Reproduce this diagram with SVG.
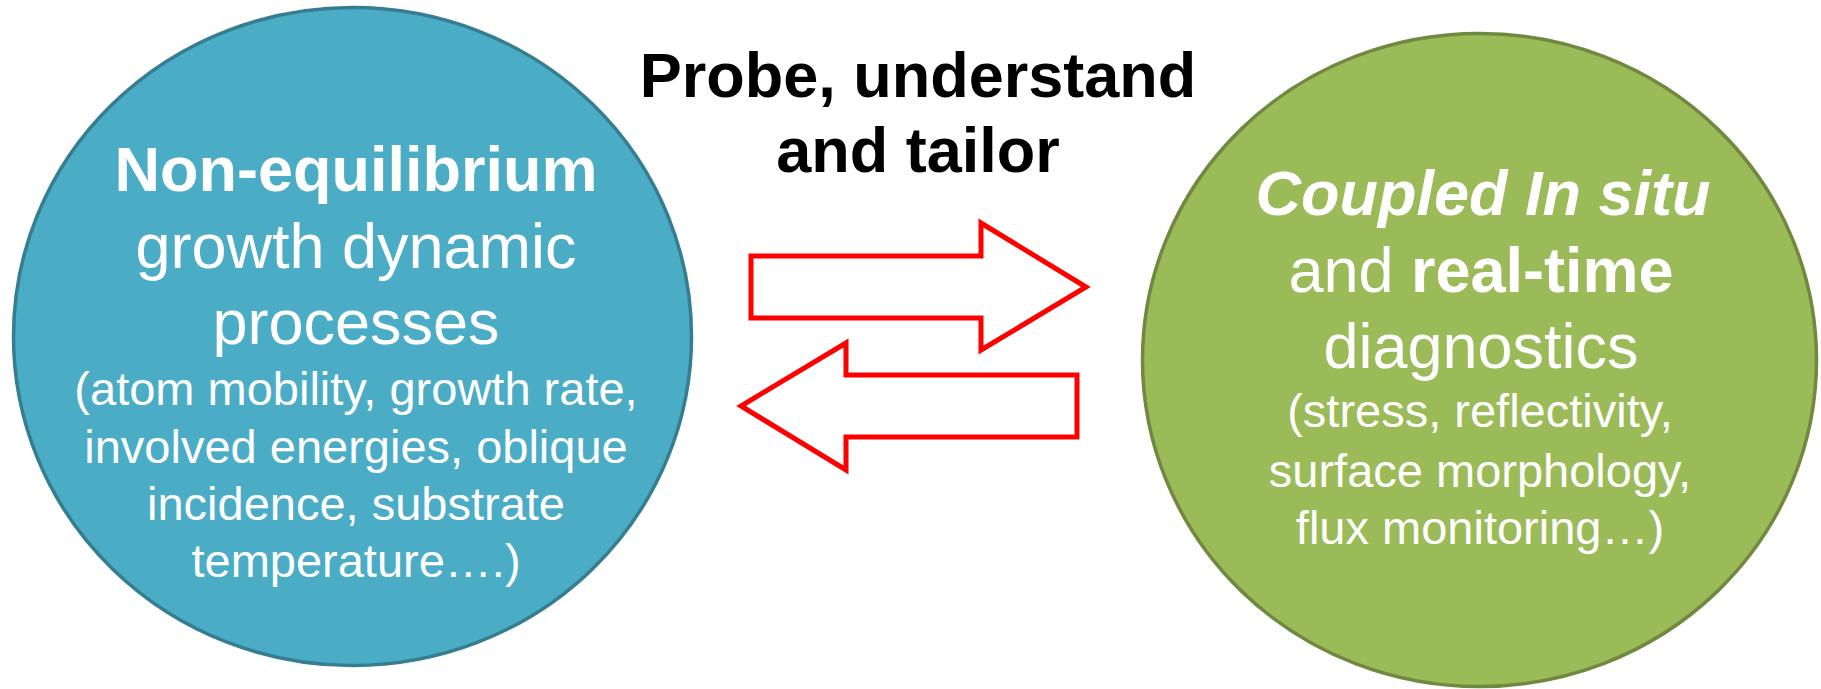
<svg xmlns="http://www.w3.org/2000/svg" width="1821" height="689" viewBox="0 0 1821 689">
<style>
  text { font-family: "Liberation Sans", Arial, sans-serif; text-anchor: middle; }
  .big { font-size: 63px; fill: #FFFFFF; }
  .small { font-size: 47px; fill: #FFFFFF; }
  .title { font-size: 63px; font-weight: bold; fill: #000000; }
  .b { font-weight: bold; }
  .bi { font-weight: bold; font-style: italic; }
  .arrow { fill: #FFFFFF; stroke: #FF0000; stroke-width: 5; stroke-linejoin: miter; }
</style>
<rect width="1821" height="689" fill="#FFFFFF"/>
<g id="node-left">
  <ellipse cx="352.5" cy="336.5" rx="339" ry="329" fill="#4BACC6" stroke="#357D91" stroke-width="3.5"/>
  <text class="big b" x="356" y="191">Non-equilibrium</text>
  <text class="big" x="356" y="268">growth dynamic</text>
  <text class="big" x="356" y="344">processes</text>
  <text class="small" x="356" y="405">(atom mobility, growth rate,</text>
  <text class="small" x="356" y="463">involved energies, oblique</text>
  <text class="small" x="356" y="520">incidence, substrate</text>
  <text class="small" x="356" y="577">temperature….)</text>
</g>
<g id="node-right">
  <ellipse cx="1479.5" cy="360" rx="337" ry="326.5" fill="#9BBB59" stroke="#71893F" stroke-width="3.5"/>
  <text class="big bi" x="1483" y="215">Coupled In situ</text>
  <text class="big" x="1481" y="292">and <tspan class="b">real-time</tspan></text>
  <text class="big" x="1481" y="368">diagnostics</text>
  <text class="small" x="1480" y="427">(stress, reflectivity,</text>
  <text class="small" x="1480" y="487">surface morphology,</text>
  <text class="small" x="1480" y="544">flux monitoring…)</text>
</g>
<g id="label-title">
  <text class="title" x="918" y="97">Probe, understand</text>
  <text class="title" x="918" y="172">and tailor</text>
</g>
<g id="connectors">
  <polygon class="arrow" points="751,256 981,256 981,223 1086,287 981,350 981,318 751,318"/>
  <polygon class="arrow" points="1077,375 846,375 846,343 741,406 846,470 846,437 1077,437"/>
</g>
</svg>
